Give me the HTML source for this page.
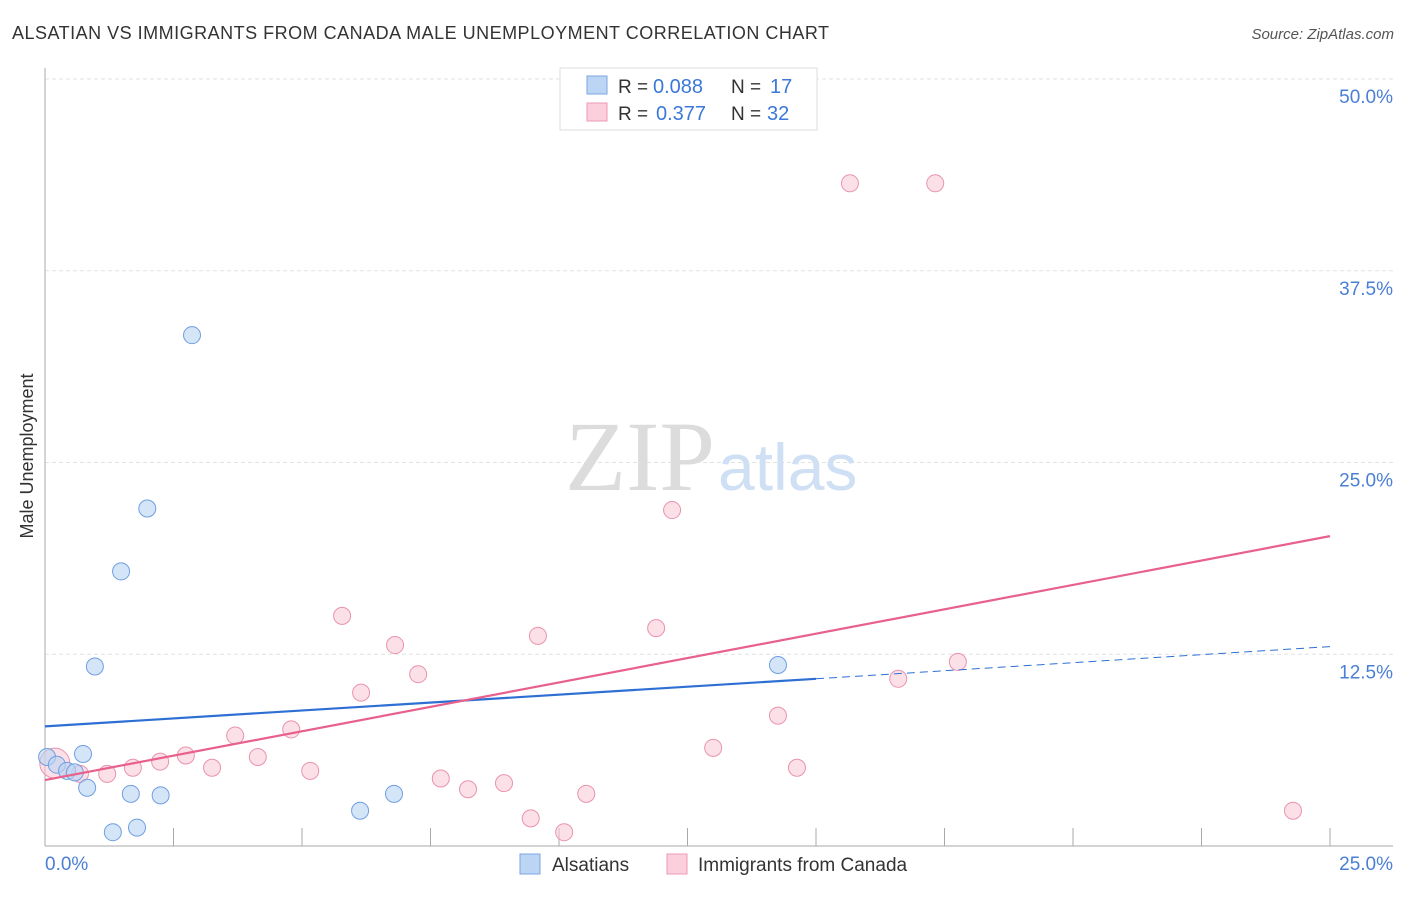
<!DOCTYPE html>
<html><head><meta charset="utf-8"><style>
body{margin:0;background:#fff;font-family:"Liberation Sans",sans-serif}
</style></head><body>
<svg width="1406" height="892" font-family="Liberation Sans, sans-serif">
<text x="12" y="39" font-size="18" fill="#333" textLength="817">ALSATIAN VS IMMIGRANTS FROM CANADA MALE UNEMPLOYMENT CORRELATION CHART</text>
<text x="1394" y="39" font-size="15" fill="#555" text-anchor="end" font-style="italic">Source: ZipAtlas.com</text>
<g id="grid"></g>
<text x="715" y="490" font-size="100" fill="#dcdcdc" text-anchor="end" style="font-family:'Liberation Serif',serif">ZIP</text>
<text x="718" y="490" font-size="66" fill="#cfe0f5">atlas</text>
<line x1="45" y1="68" x2="45" y2="846" stroke="#aaa"/>
<line x1="45" y1="846" x2="1393" y2="846" stroke="#aaa"/>
<text x="33" y="456" font-size="18" fill="#333" text-anchor="middle" transform="rotate(-90 33 456)">Male Unemployment</text>
<text x="45" y="870" font-size="19" fill="#4a7fd4">0.0%</text>
<text x="1393" y="870" font-size="19" fill="#4a7fd4" text-anchor="end">25.0%</text>
<g id="marks"></g>
<g>
<rect x="560" y="68" width="257" height="62" fill="#fff" stroke="#ddd"/>
<rect x="587" y="76" width="20" height="18" fill="#bcd5f5" stroke="#7aa6e0"/>
<rect x="587" y="103" width="20" height="18" fill="#fbd0dc" stroke="#ec9ab3"/>
<text x="618" y="93" font-size="19" fill="#333">R =</text><text x="653" y="93" font-size="20" fill="#3b78d8">0.088</text>
<text x="731" y="93" font-size="19" fill="#333">N =</text><text x="770" y="93" font-size="20" fill="#3b78d8">17</text>
<text x="618" y="120" font-size="19" fill="#333">R =</text><text x="656" y="120" font-size="20" fill="#3b78d8">0.377</text>
<text x="731" y="120" font-size="19" fill="#333">N =</text><text x="767" y="120" font-size="20" fill="#3b78d8">32</text>
</g>
<g>
<rect x="520" y="854" width="20" height="20" fill="#bcd5f5" stroke="#7aa6e0"/>
<text x="552" y="871" font-size="19" fill="#333">Alsatians</text>
<rect x="667" y="854" width="20" height="20" fill="#fbd0dc" stroke="#ec9ab3"/>
<text x="698" y="871" font-size="19" fill="#333">Immigrants from Canada</text>
</g>
</svg>
<script>
const yTicks=[12.5,25,37.5,50];
const xTicks=[2.5,5,7.5,10,12.5,15,17.5,20,22.5,25];
const blueX=[0.04,0.23,0.43,0.58,0.74,0.82,0.97,1.32,1.48,1.67,1.79,1.99,2.25,2.86,6.13,6.79,14.26];
const blueY=[5.8,5.3,4.9,4.8,6.0,3.8,11.7,0.9,17.9,3.4,1.2,22.0,3.3,33.3,2.3,3.4,11.8];
const pinkX=[0.19,0.68,1.21,1.71,2.24,2.74,3.25,3.7,4.14,4.79,5.16,5.78,6.15,6.81,7.26,7.7,8.23,8.93,9.45,9.59,10.1,10.53,11.89,12.2,13.0,14.26,14.63,15.66,16.6,17.32,17.76,24.28];
const pinkY=[5.4,4.7,4.7,5.1,5.5,5.9,5.1,7.2,5.8,7.6,4.9,15.0,10.0,13.1,11.2,4.4,3.7,4.1,1.8,13.7,0.9,3.4,14.2,21.9,6.4,8.5,5.1,43.2,10.9,43.2,12.0,2.3];
const X=v=>45+v*(1330-45)/25, Y=v=>846-v*(846-79)/50;
const NS='http://www.w3.org/2000/svg';
function mk(t,a,p){const e=document.createElementNS(NS,t);for(const k in a)e.setAttribute(k,a[k]);p.appendChild(e);return e;}
const g=document.getElementById('grid'),m=document.getElementById('marks');
yTicks.forEach((t,i)=>{const l=mk('line',{x1:45,x2:1393,y1:Y(t),y2:Y(t),stroke:'#e2e2e2','stroke-dasharray':'4 3'},g);


const tx=mk('text',{x:1393,y:Y(t)+24,'font-size':19,fill:'#4a7fd4','text-anchor':'end'},g);tx.textContent=t.toFixed(1)+'%';

});
xTicks.forEach(t=>{const l=mk('line',{x1:X(t),x2:X(t),y1:828,y2:846,stroke:'#aaa'},g);

});
pinkX.forEach((x,i)=>{const c=mk('circle',{cx:X(x),cy:Y(pinkY[i]),r:i==0?15:8.5,fill:'#f9c6d5','fill-opacity':0.55,stroke:'#e993ad','stroke-width':1},m);

});
blueX.forEach((x,i)=>{const c=mk('circle',{cx:X(x),cy:Y(blueY[i]),r:8.5,fill:'#b9d3f3','fill-opacity':0.6,stroke:'#6f9fe0','stroke-width':1},m);

});
const bl=mk('line',{x1:X(0),y1:Y(7.8),x2:X(15),y2:Y(10.9),stroke:'#2e6fd4','stroke-width':2.2},m);


const bd=mk('line',{x1:X(15),y1:Y(10.9),x2:X(25),y2:Y(13.0),stroke:'#2e6fd4','stroke-width':1,'stroke-dasharray':'8 5'},m);


const pl=mk('line',{x1:X(0),y1:Y(4.3),x2:X(25),y2:Y(20.2),stroke:'#e8608c','stroke-width':2.2},m);


</script>
</body></html>
